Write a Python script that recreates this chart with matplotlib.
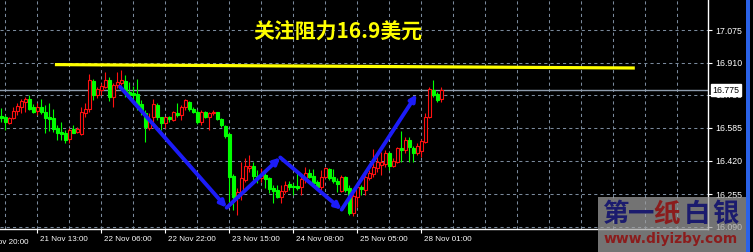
import matplotlib
matplotlib.use("Agg")
import matplotlib.pyplot as plt
from matplotlib.patches import Rectangle
from matplotlib.transforms import ScaledTranslation, blended_transform_factory
import numpy as np

# hourly candles
opens = [16.645, 16.638, 16.612, 16.633, 16.668, 16.692, 16.717, 16.728, 16.690, 16.668,
         16.690, 16.665, 16.640, 16.633, 16.583, 16.567, 16.560, 16.528, 16.578, 16.567,
         16.553, 16.662, 16.678, 16.822, 16.750, 16.775, 16.788, 16.825, 16.742, 16.800,
         16.812, 16.820, 16.767, 16.758, 16.755, 16.703, 16.658, 16.583, 16.638, 16.700,
         16.638, 16.608, 16.638, 16.625, 16.662, 16.650, 16.688, 16.717, 16.678, 16.667,
         16.617, 16.665, 16.642, 16.658, 16.663, 16.628, 16.597, 16.555, 16.345, 16.233,
         16.255, 16.325, 16.387, 16.395, 16.345, 16.333, 16.350, 16.333, 16.283, 16.275,
         16.238, 16.272, 16.305, 16.297, 16.297, 16.288, 16.328, 16.358, 16.345, 16.317,
         16.288, 16.342, 16.382, 16.342, 16.320, 16.272, 16.342, 16.283, 16.158, 16.242,
         16.292, 16.275, 16.333, 16.355, 16.383, 16.400, 16.405, 16.458, 16.397, 16.417,
         16.487, 16.475, 16.525, 16.483, 16.462, 16.472, 16.517, 16.638, 16.775, 16.755,
         16.728]
highs = [16.687, 16.650, 16.642, 16.688, 16.712, 16.728, 16.738, 16.750, 16.705, 16.708,
         16.728, 16.700, 16.712, 16.678, 16.600, 16.613, 16.575, 16.583, 16.600, 16.592,
         16.692, 16.708, 16.855, 16.832, 16.788, 16.808, 16.867, 16.838, 16.808, 16.867,
         16.875, 16.850, 16.813, 16.795, 16.828, 16.725, 16.675, 16.658, 16.728, 16.708,
         16.642, 16.642, 16.645, 16.670, 16.708, 16.700, 16.728, 16.720, 16.692, 16.675,
         16.675, 16.670, 16.667, 16.675, 16.667, 16.633, 16.600, 16.558, 16.355, 16.283,
         16.417, 16.433, 16.450, 16.417, 16.375, 16.383, 16.367, 16.342, 16.300, 16.300,
         16.300, 16.320, 16.320, 16.308, 16.358, 16.345, 16.388, 16.378, 16.378, 16.325,
         16.375, 16.392, 16.387, 16.380, 16.333, 16.350, 16.345, 16.300, 16.258, 16.300,
         16.300, 16.350, 16.375, 16.478, 16.450, 16.467, 16.475, 16.467, 16.433, 16.488,
         16.570, 16.542, 16.542, 16.495, 16.508, 16.528, 16.658, 16.792, 16.825, 16.767,
         16.792]
lows = [16.617, 16.575, 16.605, 16.628, 16.650, 16.662, 16.667, 16.675, 16.658, 16.650,
        16.655, 16.558, 16.572, 16.567, 16.525, 16.525, 16.512, 16.508, 16.558, 16.558,
        16.550, 16.642, 16.667, 16.725, 16.733, 16.750, 16.783, 16.722, 16.688, 16.783,
        16.800, 16.742, 16.742, 16.717, 16.675, 16.650, 16.517, 16.575, 16.617, 16.625,
        16.575, 16.583, 16.617, 16.622, 16.642, 16.625, 16.675, 16.672, 16.658, 16.605,
        16.600, 16.633, 16.575, 16.650, 16.625, 16.592, 16.533, 16.217, 16.175, 16.150,
        16.225, 16.317, 16.367, 16.325, 16.308, 16.317, 16.283, 16.258, 16.212, 16.233,
        16.208, 16.258, 16.275, 16.250, 16.275, 16.250, 16.308, 16.333, 16.300, 16.275,
        16.275, 16.333, 16.325, 16.308, 16.267, 16.267, 16.267, 16.150, 16.145, 16.192,
        16.250, 16.250, 16.325, 16.342, 16.367, 16.350, 16.392, 16.375, 16.392, 16.408,
        16.417, 16.458, 16.417, 16.417, 16.450, 16.442, 16.508, 16.633, 16.742, 16.717,
        16.717]
closes = [16.633, 16.617, 16.633, 16.670, 16.695, 16.718, 16.730, 16.682, 16.667, 16.690,
          16.663, 16.637, 16.630, 16.582, 16.562, 16.557, 16.525, 16.575, 16.562, 16.582,
          16.665, 16.678, 16.825, 16.750, 16.778, 16.795, 16.825, 16.738, 16.800, 16.815,
          16.825, 16.767, 16.750, 16.750, 16.700, 16.675, 16.588, 16.625, 16.705, 16.638,
          16.608, 16.638, 16.628, 16.665, 16.648, 16.688, 16.725, 16.678, 16.665, 16.617,
          16.667, 16.638, 16.662, 16.667, 16.628, 16.600, 16.547, 16.342, 16.242, 16.267,
          16.337, 16.395, 16.395, 16.345, 16.333, 16.353, 16.332, 16.282, 16.272, 16.238,
          16.272, 16.300, 16.292, 16.292, 16.283, 16.330, 16.358, 16.342, 16.308, 16.288,
          16.342, 16.387, 16.337, 16.322, 16.303, 16.342, 16.275, 16.162, 16.245, 16.292,
          16.278, 16.338, 16.358, 16.388, 16.417, 16.417, 16.458, 16.395, 16.422, 16.483,
          16.475, 16.525, 16.488, 16.458, 16.495, 16.522, 16.638, 16.778, 16.750, 16.725,
          16.775]

price_ticks = [16.090, 16.255, 16.420, 16.585, 16.750, 16.910, 17.075]
time_pos = [9, 25, 41, 57, 73, 89, 105]
time_labels = ["21 Nov 13:00", "22 Nov 06:00", "22 Nov 22:00", "23 Nov 15:00",
               "24 Nov 08:00", "25 Nov 05:00", "28 Nov 01:00"]
last_price = 16.775

# hand drawn objects on the chart
resist_x = [13.4, 158.4]
resist_y = [16.902, 16.885]
arrow_x = [29.7, 56.35, 69.75, 85.1, 103.85]
arrow_y = [16.791, 16.1865, 16.4375, 16.177, 16.7535]

fig = plt.figure(figsize=(7.53, 2.52), dpi=100, facecolor="black")
ax = fig.add_axes([0, 23 / 252, 708 / 753, 229 / 252], facecolor="black")
ax.set_xlim(-0.33, 176.7)
ax.set_ylim(16.080, 17.225)

gridc = "#7a8a9c"
for g in np.arange(1, 177, 8):
    ax.axvline(g, color=gridc, lw=0.75, ls=(0, (3, 3)), zorder=0)
for p in price_ticks:
    ax.axhline(p, color=gridc, lw=0.75, ls=(0, (3, 3)), zorder=0)

ax.axhline(last_price, color="#8e9cad", lw=1.0, zorder=1)

# candles: red = up, green = down
for i in range(len(opens)):
    o, h, l, c = opens[i], highs[i], lows[i], closes[i]
    col = "#ff1010" if c >= o else "#00ff00"
    ax.vlines(i, l, h, color=col, lw=0.8, zorder=2)
    bottom = min(o, c)
    height = max(abs(c - o), 0.003)
    face = "black" if c >= o else "#00ff00"
    ax.bar(i, height, bottom=bottom, width=0.7, facecolor=face,
           edgecolor=col, linewidth=0.8, zorder=3)

ax.plot(resist_x, resist_y, color="#ffff00", lw=2.3, zorder=4, solid_capstyle="butt")

for k in range(len(arrow_x) - 1):
    ax.annotate("", xy=(arrow_x[k + 1], arrow_y[k + 1]), xytext=(arrow_x[k], arrow_y[k]),
                arrowprops=dict(arrowstyle="-|>", color="#1c1cf8", lw=2.8,
                                mutation_scale=9, shrinkA=0, shrinkB=0), zorder=5)

# axes styling
for s in ["top", "left"]:
    ax.spines[s].set_visible(False)
for s in ["right", "bottom"]:
    ax.spines[s].set_color("white")
    ax.spines[s].set_linewidth(1.0)

ax.yaxis.tick_right()
ax.set_yticks(price_ticks)
ax.set_yticklabels(["%.3f" % p for p in price_ticks])
ax.tick_params(axis="y", colors="white", labelcolor="white", length=3, width=0.8,
               labelsize=6.3, pad=2)
for t in ax.get_yticklabels():
    t.set_family("Liberation Sans")

ax.set_xticks(time_pos)
ax.set_xticklabels(time_labels)
ax.tick_params(axis="x", colors="white", labelcolor="white", length=3, width=0.8,
               labelsize=5.8, pad=2)
for t in ax.get_xticklabels():
    t.set_family("Liberation Sans")
    t.set_horizontalalignment("left")
    t.set_transform(t.get_transform() + ScaledTranslation(2 / 72, 0, fig.dpi_scale_trans))

trans = blended_transform_factory(ax.transData, ax.transAxes)
ax.text(-5.2, -0.043, "20 Nov 20:00", transform=trans, color="white", fontsize=5.8,
        family="Liberation Sans", ha="left", va="top", clip_on=False)

# last price box on the scale
trans_y = blended_transform_factory(ax.transAxes, ax.transData)
ax.text(1.006, last_price, "16.775", transform=trans_y, color="black", fontsize=6.3,
        family="Liberation Sans", ha="left", va="center", zorder=10, clip_on=False,
        bbox=dict(boxstyle="square,pad=0.15", facecolor="white", edgecolor="white"))

fig.text(338 / 753, 1 - 32 / 252, "关注阻力16.9美元", color="#ffff00", fontsize=15,
         fontweight="bold", family=["Noto Sans CJK SC", "DejaVu Sans"],
         ha="center", va="center")

# blue strip at right edge
fig.patches.append(Rectangle((746 / 753, 0), 4 / 753, 1, transform=fig.transFigure,
                             facecolor="#2a62e8", edgecolor="none", zorder=5))

# watermark
fig.patches.append(Rectangle((598 / 753, 0), 148 / 753, 55 / 252, transform=fig.transFigure,
                             facecolor="#a0a0a0", edgecolor="none", alpha=0.72, zorder=6))
wm_chars = ["第", "一", "纸", "白", "银"]
wm_x = [615, 641, 667, 697, 725]
wm_cols = ["#1b1b6e", "#1b1b6e", "#8b1c1c", "#1b1b6e", "#1b1b6e"]
for ch, xx, cc in zip(wm_chars, wm_x, wm_cols):
    fig.text(xx / 753, 1 - 214 / 252, ch, color=cc, fontsize=19, fontweight="bold",
             family=["Noto Sans CJK SC", "DejaVu Sans"], ha="center", va="center", zorder=7)
fig.text(671 / 753, 1 - 239 / 252, "www.diyizby.com", color="#8b1c1c", fontsize=10,
         fontweight="bold", ha="center", va="center", zorder=7)

fig.savefig("out.png", dpi=100, facecolor="black")
